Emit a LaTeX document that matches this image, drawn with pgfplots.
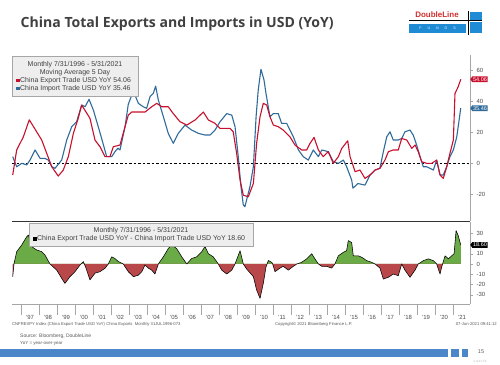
\documentclass[border=0pt]{standalone}
\usepackage{pgfplots}
\pgfplotsset{compat=1.18}
\usepackage{pgfplotstable}
\usetikzlibrary{shapes.symbols}
\usepackage{graphicx}
\usepackage{fontspec}
\setmainfont{Liberation Sans}
\newfontfamily\titlefont{Open Sans}
\definecolor{expred}{HTML}{C8102E}
\definecolor{impblue}{HTML}{2F6B9A}
\definecolor{posgreen}{HTML}{6AAB47}
\definecolor{negred}{HTML}{B9484A}
\definecolor{txtgray}{HTML}{404040}
\definecolor{barblue}{HTML}{4A86C8}
\definecolor{logoblue}{HTML}{1E8BD4}
\definecolor{logored}{HTML}{D32F2F}
\definecolor{boxgray}{HTML}{EEEEEE}

\pgfplotstableread{
x y
1996.54 -7.5
1996.76 8.6
1997.13 17
1997.46 28
1997.87 20.3
1998.15 15
1998.43 6.4
1998.71 -2.2
1999.07 -8.2
1999.35 -4.3
1999.63 4.3
1999.91 19.3
2000.18 29
2000.37 37.5
2000.83 29
2001.11 15
2001.39 10.7
2001.67 4.3
2001.94 4.3
2002.13 10.7
2002.50 11.8
2002.78 23.6
2002.96 31
2003.15 33
2003.52 33
2003.89 33
2004.26 36.4
2004.54 38.6
2004.82 36.4
2005.18 36.4
2005.46 32
2005.83 26.8
2006.21 24.6
2006.67 27.9
2007.13 33
2007.41 27.9
2007.78 25.7
2008.06 22.5
2008.33 22.5
2008.61 22.5
2008.79 20.3
2008.98 6.4
2009.17 -10.7
2009.35 -20.5
2009.63 -21.5
2009.91 -12.9
2010.09 12.9
2010.28 30
2010.46 38.6
2010.65 37.5
2010.83 30
2011.02 24.6
2011.29 23.6
2011.57 21.4
2011.94 17.1
2012.22 11.8
2012.59 8.6
2012.87 8.6
2013.06 12.9
2013.28 16.7
2013.52 8.6
2013.79 4.3
2014.07 7.5
2014.35 0
2014.63 4.3
2014.82 9.6
2015.15 14.5
2015.28 4.3
2015.56 -5.4
2015.83 -4.3
2016.11 -9.7
2016.39 -7.5
2016.67 -4.3
2016.94 -3.2
2017.22 2.1
2017.41 7.5
2017.68 8.6
2017.96 8.6
2018.15 16
2018.43 15
2018.71 9.6
2018.89 11.8
2019.07 7.5
2019.26 1
2019.54 0
2019.82 0
2020.09 2.1
2020.28 -7.5
2020.46 -9.7
2020.65 -2.2
2020.83 6.4
2021.02 15
2021.11 45
2021.29 49.3
2021.43 54.06
}\exptable

\pgfplotstableread{
x y
1996.54 4.3
1996.76 -2.2
1997.04 0
1997.32 -1
1997.50 2.1
1997.78 8.6
1998.06 3.2
1998.33 3.2
1998.52 2.1
1998.71 -2.2
1998.89 -3.2
1999.26 2.1
1999.54 15
1999.82 23.6
2000.09 26.8
2000.37 37.5
2000.56 36.4
2000.78 41.2
2001.02 34.3
2001.29 23.6
2001.48 16
2001.76 4.3
2002.04 4.3
2002.22 7.5
2002.39 9.8
2002.50 8.6
2002.78 23.6
2002.96 38
2003.24 46.5
2003.52 38.6
2003.79 36.4
2003.98 35.4
2004.17 42.9
2004.35 45
2004.48 49.7
2004.63 40.7
2004.91 30
2005.18 19.3
2005.46 12.9
2005.74 19.3
2006.11 24.6
2006.48 21.4
2006.85 19.3
2007.22 18.2
2007.50 18.2
2007.78 21.4
2008.06 26.8
2008.43 32
2008.71 31
2008.89 23.6
2009.07 4.3
2009.22 -15
2009.35 -26.8
2009.44 -27.9
2009.72 -15
2009.91 -2.2
2010.06 30
2010.18 47.2
2010.33 60.5
2010.50 53.6
2010.61 45
2010.83 30
2011.02 32
2011.29 32
2011.48 25.7
2011.76 25.7
2012.13 17.1
2012.41 8.6
2012.68 4.3
2012.96 2.1
2013.24 8.6
2013.52 4.3
2013.71 8.6
2014.07 7.5
2014.35 1
2014.63 0
2014.91 2.1
2015.09 -2.2
2015.37 -10.7
2015.44 -16
2015.72 -13
2016.11 -14
2016.39 -7.5
2016.67 -4.3
2016.94 -3.2
2017.13 7.5
2017.32 17.1
2017.50 20.3
2017.68 15
2017.96 15
2018.15 16
2018.33 20.3
2018.61 21.4
2018.79 18.2
2018.98 11.8
2019.17 4.3
2019.35 -2.2
2019.54 -2.2
2019.91 -4.3
2020.09 2.1
2020.28 -7.5
2020.46 -7.5
2020.65 -2.2
2020.83 4.3
2021.02 8.6
2021.21 17.1
2021.43 35.46
}\imptable

\pgfplotstableread{
x y
1996.54 -12.4
1996.61 0
1996.76 12
1997.04 18.6
1997.32 26.7
1997.41 28.3
1997.59 17
1997.87 13.7
1998.15 12
1998.33 8.8
1998.61 0
1998.98 -5.9
1999.26 -14
1999.44 -19
1999.72 -12.4
2000.00 -7.5
2000.28 -1
2000.33 0
2000.46 2.3
2000.52 0
2000.61 -4
2000.83 -15.6
2001.11 -9
2001.39 -7.5
2001.67 -4.2
2001.85 0
2002.04 7
2002.22 5.3
2002.41 2.3
2002.68 0
2002.96 -7.5
2003.24 -12.4
2003.52 -11
2003.71 -7.5
2003.89 -1
2004.07 -4
2004.26 -6
2004.44 -9.8
2004.63 0
2004.91 7
2005.18 15
2005.37 18.6
2005.65 15
2005.93 7
2006.21 0
2006.48 5.3
2006.76 7
2007.04 12
2007.22 17
2007.41 10
2007.68 7
2007.96 0
2008.15 -6
2008.43 -9.8
2008.71 -6
2008.89 0
2009.17 13
2009.35 0
2009.54 -5
2009.91 -12.4
2010.09 -25.4
2010.28 -33.6
2010.46 -19
2010.61 -3
2010.67 0
2010.74 3.4
2010.93 1.6
2010.98 0
2011.11 -7.5
2011.39 -4
2011.57 -2.3
2011.85 -6
2012.13 -2.3
2012.32 0
2012.59 1.6
2012.87 5
2013.15 10
2013.33 5
2013.52 0
2013.71 -2.3
2013.98 -2.3
2014.26 -4
2014.44 0
2014.63 8
2014.91 11.4
2015.09 13
2015.18 22.8
2015.37 21
2015.46 8
2015.74 8
2015.93 6.5
2016.21 3.2
2016.48 1.6
2016.67 0
2016.94 -4
2017.13 -14.7
2017.41 -13
2017.68 -9.8
2017.96 -11.4
2018.15 0
2018.33 -6
2018.61 -13
2018.89 -6
2019.07 0
2019.35 3.2
2019.63 5
2019.91 3.2
2020.09 0
2020.28 -9.8
2020.37 -3
2020.42 0
2020.56 8
2020.74 5
2020.93 8
2021.06 10
2021.17 32.6
2021.29 27.7
2021.43 18.6
}\difftable

\begin{document}
\begin{tikzpicture}
\path[use as bounding box, fill=white] (0,0) rectangle (500bp,-365bp);

% title
\node[anchor=west, inner sep=0pt, text=txtgray] at (20.5bp,-24bp)
  {\resizebox{313bp}{!}{\titlefont\bfseries China Total Exports and Imports in USD (YoY)}};

% logo
\node[anchor=center, inner sep=0pt, text=logored, font=\fontsize{8}{9}\selectfont\bfseries] at (437bp,-14.5bp) {DoubleLine};
\draw[black, line width=0.6bp] (409bp,-20.5bp) -- (482bp,-20.5bp);
\fill[logoblue] (409bp,-24bp) rectangle (466bp,-33bp);
\node[text=white, inner sep=0pt, font=\fontsize{3.6}{4}\selectfont] at (437.5bp,-28.5bp) {F\hspace{6bp}U\hspace{6bp}N\hspace{6bp}D\hspace{6bp}S};
\draw[black, line width=0.6bp] (468bp,-11bp) -- (468bp,-35bp);
\fill[logoblue] (470bp,-12bp) rectangle (482bp,-19.5bp);
\fill[logoblue] (470bp,-22bp) rectangle (482bp,-33bp);

% top panel
\begin{axis}[
  at={(12bp,-55bp)}, anchor=north west,
  scale only axis, width=458bp, height=166bp,
  xmin=1996.5, xmax=2021.944, ymin=-37.1, ymax=69.7,
  axis x line=none, axis y line*=right,
  axis line style={-, gray!70, line width=0.5bp},
  ytick={-20,0,20,40,60},
  yticklabel style={font=\fontsize{6}{7}\selectfont, text=gray!60!black, /pgf/number format/assume math mode=true},
  ytick style={gray!70},
  major tick length=3bp, tick align=outside,
  clip=false,
]
\addplot[black, line width=0.6bp, dash pattern=on 2.5bp off 2bp] coordinates {(1996.5,0) (2021.944,0)};
\addplot[impblue, line width=1.1bp, line join=round] table {\imptable};
\addplot[expred, line width=1.1bp, line join=round] table {\exptable};
\node[signal, signal to=west, signal pointer angle=110, fill=expred, text=white, inner sep=0.9bp, anchor=west, font=\fontsize{5.5}{6}\selectfont] at (axis cs:2021.944,54.06) {54.06};
\node[signal, signal to=west, signal pointer angle=110, fill=impblue, text=white, inner sep=0.9bp, anchor=west, font=\fontsize{5.5}{6}\selectfont] at (axis cs:2021.944,35.46) {35.46};
\end{axis}

% bottom panel
\begin{axis}[
  at={(12bp,-222bp)}, anchor=north west,
  scale only axis, width=458bp, height=82bp,
  xmin=1996.5, xmax=2021.944, ymin=-39.1, ymax=41,
  axis x line*=bottom, axis y line*=right,
  axis line style={-, gray!70, line width=0.5bp},
  ytick={-30,-20,-10,0,10,30},
  extra y ticks={20}, extra y tick labels={},
  yticklabel style={font=\fontsize{6}{7}\selectfont, text=gray!60!black, /pgf/number format/assume math mode=true},
  ytick style={gray!70},
  xtick={1997.5,1998.5,1999.5,2000.5,2001.5,2002.5,2003.5,2004.5,2005.5,2006.5,2007.5,2008.5,2009.5,2010.5,2011.5,2012.5,2013.5,2014.5,2015.5,2016.5,2017.5,2018.5,2019.5,2020.5,2021.5},
  xticklabels={'97,'98,'99,'00,'01,'02,'03,'04,'05,'06,'07,'08,'09,'10,'11,'12,'13,'14,'15,'16,'17,'18,'19,'20,'21},
  xticklabel style={font=\fontsize{6}{7}\selectfont, text=gray!60!black, yshift=-5bp},
  minor xtick={1997,1998,...,2021},
  major x tick style={draw=none},
  minor x tick style={draw=gray!70},
  minor tick length=11bp, major tick length=3bp, tick align=outside,
  clip=false,
]
\addplot[fill=posgreen, draw=none, y filter/.expression={max(y,0)}] table {\difftable} \closedcycle;
\addplot[fill=negred, draw=none, y filter/.expression={min(y,0)}] table {\difftable} \closedcycle;
\addplot[black, line width=0.55bp, line join=round] table {\difftable};
\node[signal, signal to=west, signal pointer angle=110, fill=black, text=white, inner sep=0.9bp, anchor=west, font=\fontsize{5.5}{6}\selectfont] at (axis cs:2021.944,18.6) {18.60};
\end{axis}

% separator
\draw[black!80, line width=1.5bp] (12bp,-221.5bp) -- (470bp,-221.5bp);

% top legend box
\draw[gray!70, fill=boxgray, line width=0.5bp] (12.7bp,-56bp) rectangle (138bp,-96.7bp);
\node[text=txtgray, font=\fontsize{7}{8}\selectfont, inner sep=0pt] at (75bp,-64.5bp) {Monthly 7/31/1996 - 5/31/2021};
\node[text=txtgray, font=\fontsize{7}{8}\selectfont, inner sep=0pt] at (75bp,-72.5bp) {Moving Average 5 Day};
\fill[expred] (16bp,-78.5bp) rectangle (19.5bp,-82bp);
\node[anchor=west, text=txtgray, font=\fontsize{7}{8}\selectfont, inner sep=0pt] at (20bp,-80.5bp) {China Export Trade USD YoY 54.06};
\fill[impblue] (16bp,-86.5bp) rectangle (19.5bp,-90bp);
\node[anchor=west, text=txtgray, font=\fontsize{7}{8}\selectfont, inner sep=0pt] at (20bp,-88.5bp) {China Import Trade USD YoY 35.46};

% bottom legend box
\draw[gray!70, fill=boxgray, line width=0.5bp] (29bp,-223bp) rectangle (253bp,-246.7bp);
\node[text=txtgray, font=\fontsize{7}{8}\selectfont, inner sep=0pt] at (141bp,-230.5bp) {Monthly 7/31/1996 - 5/31/2021};
\fill[black] (33bp,-237bp) rectangle (36.5bp,-240.5bp);
\node[anchor=west, text=txtgray, font=\fontsize{7}{8}\selectfont, inner sep=0pt] at (37bp,-239bp) {China Export Trade USD YoY - China Import Trade USD YoY 18.60};

% footer
\node[anchor=west, text=gray!70!black, font=\fontsize{4.2}{5}\selectfont, inner sep=0pt] at (12bp,-324bp) {CNFREXPY Index (China Export Trade USD YoY) China Exports\ \ Monthly 31JUL1996-073};
\node[anchor=west, text=gray!70!black, font=\fontsize{4.2}{5}\selectfont, inner sep=0pt] at (275bp,-324bp) {Copyright\textcopyright\ 2021 Bloomberg Finance L.P.};
\node[anchor=east, text=gray!70!black, font=\fontsize{4.2}{5}\selectfont, inner sep=0pt] at (497bp,-324bp) {07-Jun-2021 09:41:12};
\node[anchor=west, text=gray!70!black, font=\fontsize{5}{6}\selectfont, inner sep=0pt] at (20bp,-336bp) {Source: Bloomberg, DoubleLine};
\node[anchor=west, text=gray!70!black, font=\fontsize{4.5}{5}\selectfont, inner sep=0pt] at (20bp,-343bp) {YoY = year-over-year};
\fill[barblue] (0bp,-348.5bp) rectangle (448bp,-356.5bp);
\fill[barblue] (451bp,-348.5bp) rectangle (459bp,-356.5bp);
\fill[barblue] (462bp,-348.5bp) rectangle (468bp,-356.5bp);
\node[text=gray!70!black, font=\fontsize{5.5}{6}\selectfont, inner sep=0pt] at (481bp,-352bp) {15};
\node[text=gray!60, font=\fontsize{3}{4}\selectfont, inner sep=0pt] at (480bp,-361bp) {1-4-21 TX};
\end{tikzpicture}
\end{document}
